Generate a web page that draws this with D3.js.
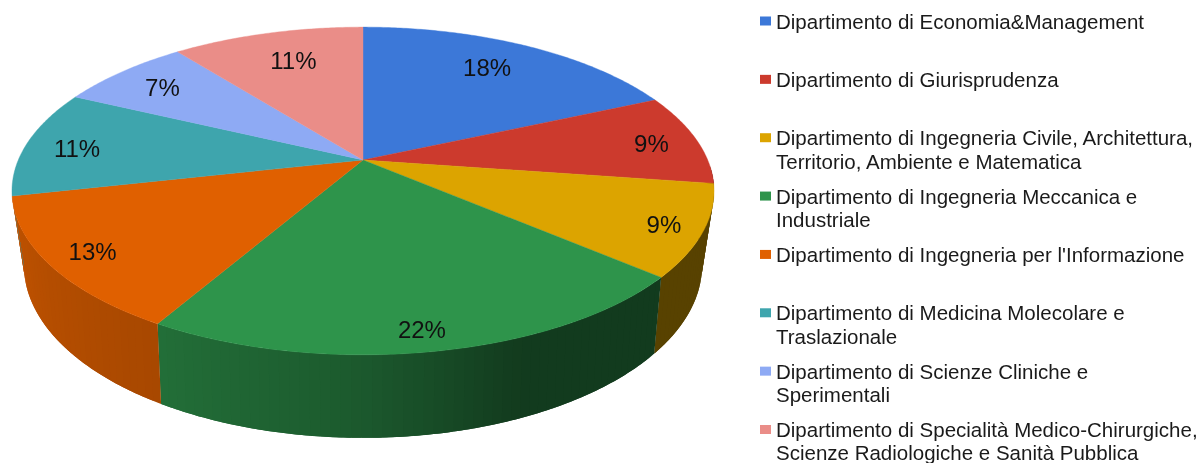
<!DOCTYPE html>
<html>
<head>
<meta charset="utf-8">
<script src="https://cdn.jsdelivr.net/npm/d3@7"></script>
<style>
    html, body { margin: 0; padding: 0; background: #fff; }
    svg { display: block; font-family: "Liberation Sans", Arial, sans-serif; filter: blur(0.45px); }
</style>
</head>
<body>
<svg id="chart" width="1200" height="463"></svg>
<script>
    var departments = [
        ['Dipartimento di Economia&Management'],
        ['Dipartimento di Giurisprudenza'],
        ['Dipartimento di Ingegneria Civile, Architettura,', 'Territorio, Ambiente e Matematica'],
        ['Dipartimento di Ingegneria Meccanica e', 'Industriale'],
        ["Dipartimento di Ingegneria per l'Informazione"],
        ['Dipartimento di Medicina Molecolare e', 'Traslazionale'],
        ['Dipartimento di Scienze Cliniche e', 'Sperimentali'],
        ['Dipartimento di Specialità Medico-Chirurgiche,', 'Scienze Radiologiche e Sanità Pubblica']
    ];
    // estimated from the slice edges, the labels show them rounded
    var shares = [18.3, 9, 9, 22, 13.2, 10.6, 7.3, 10.6];
    var colors = ['#3c78d8', '#cc3a2d', '#dca400', '#2e944b', '#e06000', '#3ea5ad', '#8eaaf4', '#ea8d88'];

    // where each percent label sits: fraction of the radius, then a small nudge in pixels
    var labelRadius = [0.74, 0.87, 0.87, 0.9, 0.89, 0.85, 0.8, 0.74];
    var labelDx = [0, -2, 8, -4, 4, 0, -4, 4];
    var labelDy = [-5, 2, 3, 1, -1, 3, 0, -2];

    var svg = d3.select('#chart');
    var cx = 363;

    // the pie lies tilted: near edge is bigger than the far one, so both rims are perspective circles
    function rim(s, a, k, y0) {
        return function (angle, r) {
            var u = Math.sin(angle) * r, v = -Math.cos(angle) * r, w = 1 - k * v;
            return [cx + s * u / w, y0 + a * v / w];
        };
    }
    var topRim = rim(344.7, 158, 0.189, 160);
    var bottomRim = rim(331.5, 165, 0.21, 229);

    var pie = d3.pie().sort(null);
    var arcs = pie(shares);
    var line = d3.line();

    function sweep(a0, a1, step) {
        var n = Math.max(2, Math.ceil((a1 - a0) / step));
        return d3.range(n + 1).map(function (i) { return a0 + (a1 - a0) * i / n; });
    }

    // wall shading by angle, it falls off towards the right side
    var deg = 180 / Math.PI;
    var shade = d3.scaleLinear().domain([100, 158, 180, 210, 258]).range([0.4, 0.4, 0.6, 0.75, 0.86]).clamp(true);

    var walls = svg.append('g');
    arcs.forEach(function (d, i) {
        var a0 = Math.max(d.startAngle, 92 / deg);
        var a1 = Math.min(d.endAngle, 258 / deg);
        if (a1 <= a0) return;
        var base = d3.rgb(colors[i]);
        var steps = sweep(a0, a1, 0.025);
        // each band runs under the next one so no seams show
        steps.slice(0, -1).forEach(function (a, j) {
            var next = steps[Math.min(j + 2, steps.length - 1)];
            var f = shade((a + steps[j + 1]) / 2 * deg);
            walls.append('path')
                .attr('d', line(sweep(a, next, 0.01).map(function (t) { return topRim(t, 1); })
                    .concat(sweep(a, next, 0.01).reverse().map(function (t) { return bottomRim(t, 1); }))) + 'Z')
                .attr('fill', d3.rgb(base.r * f, base.g * f, base.b * f));
        });
    });

    var faces = svg.append('g');
    arcs.forEach(function (d, i) {
        var pts = sweep(d.startAngle, d.endAngle, 0.01).map(function (a) { return topRim(a, 1); });
        pts.unshift(topRim(0, 0));
        faces.append('path')
            .attr('d', line(pts) + 'Z')
            .attr('fill', colors[i])
            .attr('stroke', colors[i])
            .attr('stroke-width', 0.4);
    });

    svg.append('g').selectAll('text')
        .data(arcs)
        .enter()
        .append('text')
        .attr('text-anchor', 'middle')
        .attr('dominant-baseline', 'central')
        .attr('font-size', 24)
        .attr('fill', '#111')
        .attr('transform', function (d, i) {
            var p = topRim((d.startAngle + d.endAngle) / 2, labelRadius[i]);
            return 'translate(' + (p[0] + labelDx[i]) + ',' + (p[1] + labelDy[i]) + ')';
        })
        .text(function (d) { return d3.format('.0f')(d.value) + '%'; });

    var legendY = d3.scalePoint().domain(d3.range(departments.length)).range([21, 429.5]);
    var row = svg.append('g').selectAll('g')
        .data(departments)
        .enter()
        .append('g')
        .attr('transform', function (d, i) { return 'translate(760,' + legendY(i) + ')'; });

    row.append('rect')
        .attr('y', -4.5)
        .attr('width', 11)
        .attr('height', 9)
        .attr('fill', function (d, i) { return colors[i]; });

    row.each(function (lines) {
        d3.select(this).selectAll('text')
            .data(lines)
            .enter()
            .append('text')
            .attr('x', 16)
            .attr('y', function (t, j) { return j * 23.3; })
            .attr('dominant-baseline', 'central')
            .attr('font-size', 20.5)
            .attr('fill', '#1a1a1a')
            .text(function (t) { return t; });
    });
</script>
</body>
</html>
